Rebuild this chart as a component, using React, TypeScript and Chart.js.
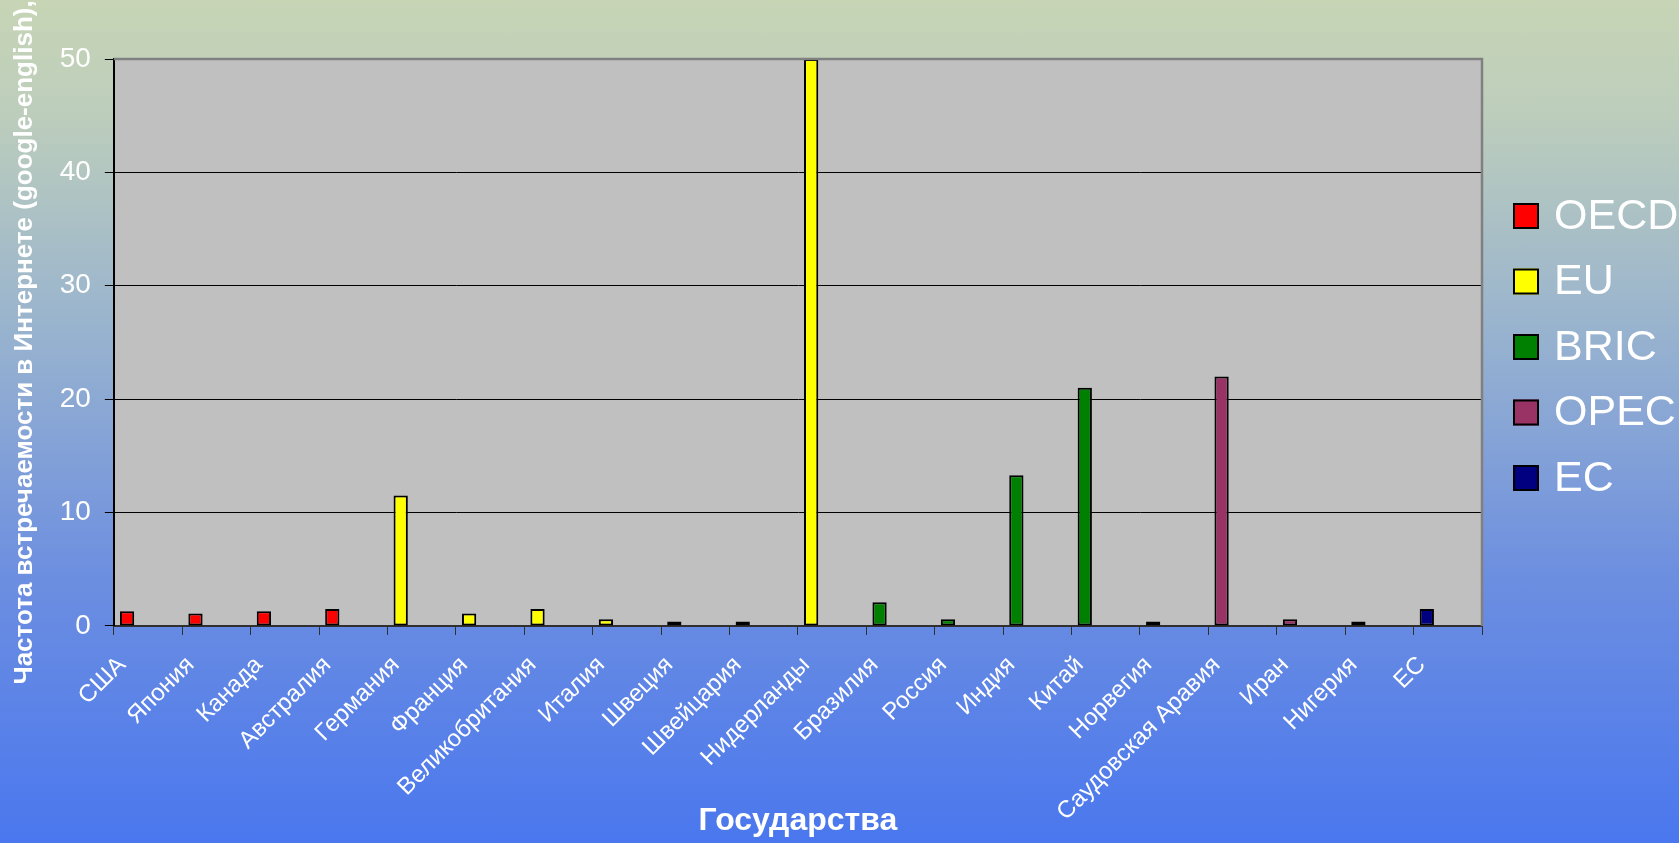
import React, { useEffect, useRef } from "react";
import { Chart, registerables } from "chart.js";

Chart.register(...registerables);

const FONT = '"Liberation Sans", Arial, Helvetica, sans-serif';

// Countries along the horizontal axis
const countries = [
  "США",
  "Япония",
  "Канада",
  "Австралия",
  "Германия",
  "Франция",
  "Великобритания",
  "Италия",
  "Швеция",
  "Швейцария",
  "Нидерланды",
  "Бразилия",
  "Россия",
  "Индия",
  "Китай",
  "Норвегия",
  "Саудовская Аравия",
  "Иран",
  "Нигерия",
  "ЕС",
];

// Frequency values per group (null where the country is not in the group)
const oecdValues = [1.3, 1.1, 1.3, 1.5, null, null, null, null, null, 0.4, null, null, null, null, null, null, null, null, null, null];
const euValues = [null, null, null, null, 11.5, 1.1, 1.5, 0.6, 0.4, null, 50, null, null, null, null, null, null, null, null, null];
const bricValues = [null, null, null, null, null, null, null, null, null, null, null, 2.1, 0.6, 13.3, 21, null, null, null, null, null];
const opecValues = [null, null, null, null, null, null, null, null, null, null, null, null, null, null, null, 0.4, 22, 0.6, 0.4, null];
const ecValues = [null, null, null, null, null, null, null, null, null, null, null, null, null, null, null, null, null, null, null, 1.5];

const groupNames = ["OECD", "EU", "BRIC", "OPEC", "EC"];
const groupColors = ["#ff0000", "#ffff00", "#008000", "#993366", "#000080"];
const groupValues = [oecdValues, euValues, bricValues, opecValues, ecValues];

const yMin = 0;
const yMax = 50;
const yStep = 10;

const yTitle = "Частота встречаемости в Интернете (google-english),";
const xTitle = "Государства";

// Gray plotting area behind the grid
const plotBackground = {
  id: "plotBackground",
  beforeDraw(chart: any) {
    const { ctx, chartArea: a } = chart;
    ctx.save();
    ctx.fillStyle = "#c0c0c0";
    ctx.fillRect(a.left, a.top, a.right - a.left, a.bottom - a.top);
    ctx.restore();
  },
  afterDatasetsDraw(chart: any) {
    const { ctx, chartArea: a } = chart;
    ctx.save();
    ctx.strokeStyle = "#808080";
    ctx.lineWidth = 2.5;
    ctx.beginPath();
    ctx.moveTo(a.left, a.top);
    ctx.lineTo(a.right, a.top);
    ctx.lineTo(a.right, a.bottom);
    ctx.stroke();
    ctx.restore();
  },
};

// Legend column on the right side of the plot
const sideLegend = {
  id: "sideLegend",
  afterDraw(chart: any, _args: any, opts: any) {
    const { ctx } = chart;
    const items = chart.data.datasets.filter((d: any) => !d.spacer);
    ctx.save();
    ctx.font = `${opts.fontSize}px ${FONT}`;
    ctx.textBaseline = "middle";
    ctx.textAlign = "left";
    items.forEach((d: any, i: number) => {
      const cy = opts.top + i * opts.step;
      const s = opts.box;
      ctx.fillStyle = d.backgroundColor;
      ctx.fillRect(opts.left, cy - s / 2, s, s);
      ctx.strokeStyle = "#000";
      ctx.lineWidth = 2;
      ctx.strokeRect(opts.left + 1, cy - s / 2 + 1, s - 2, s - 2);
      ctx.fillStyle = "#ffffff";
      ctx.fillText(d.label, opts.left + s + opts.gap, cy + 1);
    });
    ctx.restore();
  },
};

export default function App() {
  const canvasRef = useRef<HTMLCanvasElement | null>(null);

  useEffect(() => {
    if (!canvasRef.current) return;

    const datasets: any[] = groupNames.map((name, i) => ({
      label: name,
      data: groupValues[i],
      backgroundColor: groupColors[i],
      borderColor: "#000000",
      borderWidth: 2,
      borderSkipped: false,
      stack: "main",
      barPercentage: 0.68,
      categoryPercentage: 0.92,
    }));
    // empty stacks that keep the bars on the left side of each category
    ["pad1", "pad2"].forEach((s) =>
      datasets.push({
        label: s,
        spacer: true,
        data: countries.map(() => null),
        stack: s,
        barPercentage: 0.68,
        categoryPercentage: 0.92,
      })
    );

    const chart = new Chart(canvasRef.current, {
      type: "bar",
      data: { labels: countries, datasets },
      plugins: [plotBackground, sideLegend],
      options: {
        animation: false,
        responsive: true,
        maintainAspectRatio: false,
        layout: { padding: { top: 59, left: 0, right: 197, bottom: 0 } },
        plugins: {
          legend: { display: false },
          tooltip: { enabled: false },
          sideLegend: { left: 1513, top: 216, step: 65.5, box: 26, gap: 15, fontSize: 43 },
        } as any,
        scales: {
          x: {
            grid: {
              display: true,
              drawOnChartArea: false,
              drawTicks: true,
              tickLength: 9,
              color: "#303030",
              offset: true,
            },
            border: { display: true, color: "#303030", width: 2 },
            ticks: {
              color: "#ffffff",
              font: { family: FONT, size: 24 },
              minRotation: 45,
              maxRotation: 45,
              autoSkip: false,
              padding: 16,
              labelOffset: -26,
            },
            title: {
              display: true,
              text: xTitle,
              color: "#ffffff",
              font: { family: FONT, size: 32, weight: "bold" },
              padding: { top: -41, bottom: 3 },
            },
          },
          y: {
            min: yMin,
            max: yMax,
            grid: { color: "#000000", lineWidth: 1, tickLength: 9 },
            border: { display: true, color: "#000000", width: 2 },
            ticks: {
              stepSize: yStep,
              color: "#ffffff",
              font: { family: FONT, size: 28 },
              padding: 14,
            },
            title: {
              display: true,
              text: yTitle,
              color: "#ffffff",
              font: { family: FONT, size: 26, weight: "bold" },
              padding: { top: 9, bottom: 5.5 },
            },
          },
        },
      } as any,
    });

    return () => chart.destroy();
  }, []);

  return (
    <div
      style={{
        position: "fixed",
        inset: 0,
        background:
          "linear-gradient(to bottom, #c7d5b5 0%, #bccdbc 14%, #97b2cf 40%, #6d8fe0 68%, #4a77ee 100%)",
      }}
    >
      <canvas ref={canvasRef} />
    </div>
  );
}
